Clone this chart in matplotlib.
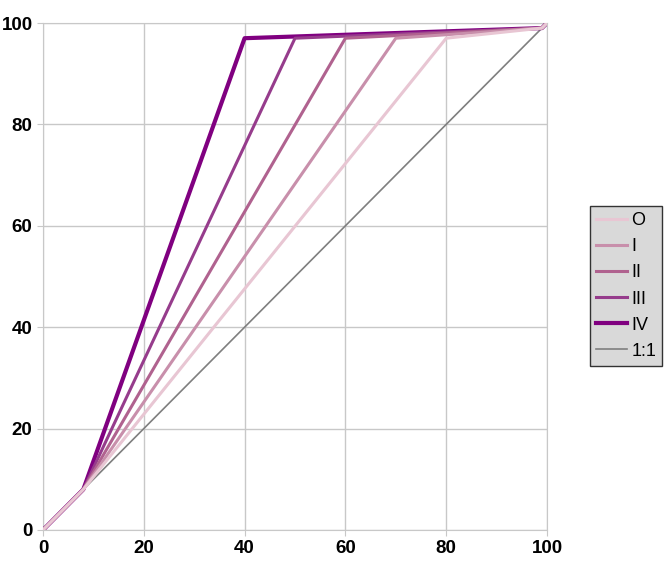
import matplotlib
matplotlib.use("Agg")
import matplotlib.pyplot as plt

plt.rcParams['font.family'] = ['Liberation Sans', 'DejaVu Sans']

# 資料
labels = ["O", "I", "II", "III", "IV"]
break_x = [80, 70, 60, 50, 40]
xs_common = [0, 8]
ys_common = [0, 8]
break_y = 97
end_x = [99, 100]
end_y = [99, 100]
one_to_one = [0, 100]

colors = ["#e8c6d3", "#c88fab", "#b0628f", "#963c8c", "#800080"]
widths = [2.2, 2.2, 2.2, 2.2, 3.0]

fig = plt.figure(figsize=(6.68, 5.72), dpi=100)
ax = fig.add_axes([43 / 668, 42 / 572, 504 / 668, 507 / 572])

ax.plot(one_to_one, one_to_one, color="#7f7f7f", linewidth=1.2, label="1:1", zorder=1)
# 淺色畫在上層
for i, (lab, bx, c, w) in enumerate(zip(labels, break_x, colors, widths)):
    xs = xs_common + [bx] + end_x
    ys = ys_common + [break_y] + end_y
    ax.plot(xs, ys, color=c, linewidth=w, label=lab, solid_joinstyle="round",
            zorder=10 - i)

ax.set_xlim(0, 100)
ax.set_ylim(0, 100)
ax.set_xticks(range(0, 101, 20))
ax.set_yticks(range(0, 101, 20))
ax.grid(color="#c8c8c8", linewidth=1)
ax.set_axisbelow(True)
for s in ax.spines.values():
    s.set_color("#c8c8c8")
ax.tick_params(colors="#c8c8c8", labelcolor="black", length=4, labelsize=13.5)
for t in ax.get_xticklabels() + ax.get_yticklabels():
    t.set_fontweight("bold")

handles, labs = ax.get_legend_handles_labels()
order = [1, 2, 3, 4, 5, 0]
leg = fig.legend([handles[i] for i in order], [labs[i] for i in order],
                 loc="center", bbox_to_anchor=(626 / 668, 1 - 286 / 572),
                 fontsize=13, frameon=True, fancybox=False, handlelength=1.7,
                 handletextpad=0.25, labelspacing=0.5, borderpad=0.35,
                 borderaxespad=0)
leg.get_frame().set_facecolor("#d9d9d9")
leg.get_frame().set_edgecolor("#333333")
leg.get_frame().set_alpha(1)

fig.savefig("out.png", dpi=100)
